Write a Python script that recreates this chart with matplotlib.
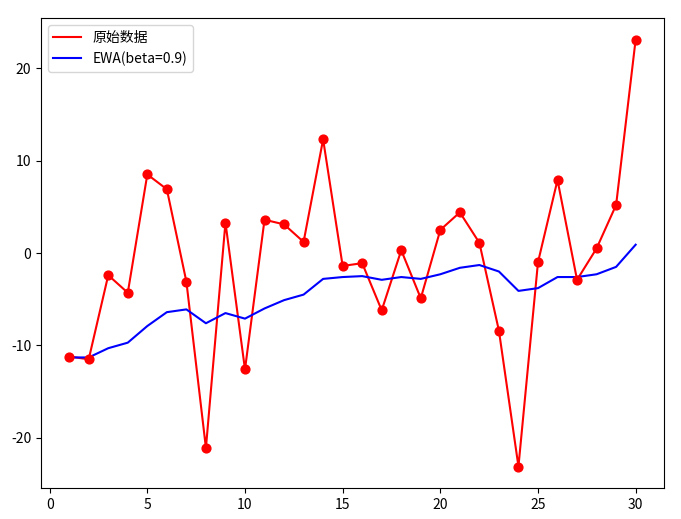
import matplotlib
matplotlib.use("Agg")
import matplotlib.pyplot as plt

plt.rcParams['font.family'] = ['Noto Sans CJK SC', 'DejaVu Sans']
plt.rcParams['axes.unicode_minus'] = False

days = list(range(1, 31))
raw = [-11.2, -11.5, -2.4, -4.3, 8.5, 6.9, -3.1, -21.1, 3.3, -12.6,
       3.6, 3.1, 1.2, 12.3, -1.4, -1.1, -6.2, 0.3, -4.9, 2.5,
       4.4, 1.1, -8.4, -23.1, -1.0, 7.9, -2.9, 0.5, 5.2, 23.1]
ewa = [-11.3, -11.3, -10.3, -9.7, -7.9, -6.4, -6.1, -7.6, -6.5, -7.1,
       -6.0, -5.1, -4.5, -2.8, -2.6, -2.5, -2.9, -2.6, -2.8, -2.3,
       -1.6, -1.3, -2.0, -4.1, -3.8, -2.6, -2.6, -2.3, -1.5, 0.9]

fig, ax = plt.subplots(figsize=(6.81, 5.19), dpi=100)
fig.subplots_adjust(left=0.06, right=0.975, top=0.965, bottom=0.06)
ax.plot(days, raw, color='red', label='原始数据')
ax.scatter(days, raw, color='red', s=40, zorder=3)
ax.plot(days, ewa, color='blue', label='EWA(beta=0.9)')
ax.legend(loc='upper left')
fig.savefig('out.png')
